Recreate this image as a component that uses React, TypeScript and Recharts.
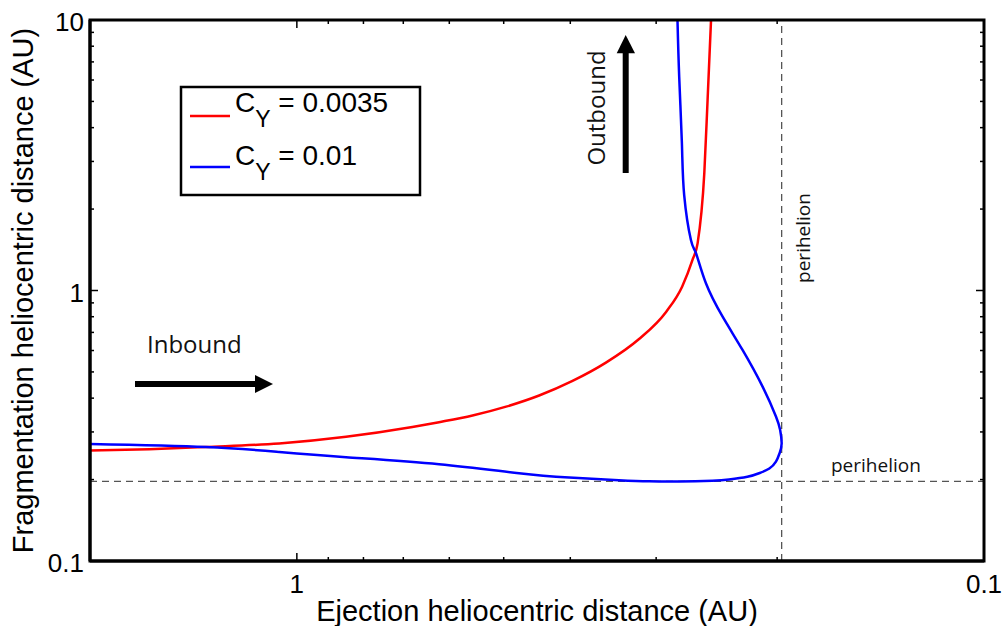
import React from 'react';
import { LineChart, Line, XAxis, YAxis, ReferenceLine } from 'recharts';

// ---- data ----
const redEjection = [2.0, 1.64, 1.357, 1.061, 0.848, 0.679, 0.621, 0.555, 0.496, 0.444, 0.397, 0.355, 0.318, 0.29, 0.275, 0.2656, 0.2611, 0.2553, 0.2525, 0.2496];
const redFragmentation = [0.256, 0.259, 0.264, 0.272, 0.288, 0.313, 0.326, 0.345, 0.372, 0.409, 0.463, 0.541, 0.66, 0.835, 1.033, 1.297, 1.494, 2.713, 5.06, 10];

const blueEjection = [2.0, 1.357, 1.061, 0.848, 0.621, 0.475, 0.4015, 0.34, 0.307, 0.278, 0.2485, 0.235, 0.221, 0.212, 0.2053, 0.2008, 0.1983, 0.197, 0.198, 0.2008, 0.21, 0.2246, 0.2401, 0.2539, 0.2625, 0.267, 0.2731, 0.2752, 0.2777, 0.2793];
const blueFragmentation = [0.271, 0.264, 0.253, 0.242, 0.228, 0.211, 0.2035, 0.199, 0.197, 0.1967, 0.1982, 0.2002, 0.2048, 0.2115, 0.2198, 0.233, 0.251, 0.272, 0.305, 0.342, 0.441, 0.603, 0.8, 1.063, 1.373, 1.537, 2.254, 3.5, 6.17, 10];

const seriesNames = ['0.0035', '0.01'];
const seriesColors = ['#ff0000', '#0000ff'];
const perihelion = 0.197;

const xTicks = [0.1, 0.2, 0.3, 0.4, 0.5, 0.6, 0.7, 0.8, 0.9, 1];
const xMajor = [0.1, 1];
const yTicks = [0.1, 0.2, 0.3, 0.4, 0.5, 0.6, 0.7, 0.8, 0.9, 1, 2, 3, 4, 5, 6, 7, 8, 9, 10];
const yMajor = [0.1, 1, 10];

const xLabel = 'Ejection heliocentric distance (AU)';
const yLabel = 'Fragmentation heliocentric distance (AU)';

const redData = redEjection.map((x, i) => ({ x, y: redFragmentation[i] }));
const blueData = blueEjection.map((x, i) => ({ x, y: blueFragmentation[i] }));

// ---- layout ----
const W = 1002;
const H = 626;
const PLOT = { left: 90, top: 20, right: 984, bottom: 561 };
const SANS = '"Liberation Sans", Arial, Helvetica, sans-serif';
const ANNO = '"Open Sans", "Noto Sans", sans-serif';

const XTick = (props: any) => {
  const { x, payload } = props;
  const v = payload.value;
  const major = xMajor.includes(v);
  const len = major ? 8 : 4;
  return (
    <g>
      <line x1={x} x2={x} y1={PLOT.bottom} y2={PLOT.bottom - len} stroke="#000" strokeWidth={1.5} />
      <line x1={x} x2={x} y1={PLOT.top} y2={PLOT.top + len} stroke="#000" strokeWidth={1.5} />
      {major && (
        <text x={x} y={PLOT.bottom + 32} textAnchor="middle" fontSize={26} fontFamily={SANS} fill="#000">
          {String(v)}
        </text>
      )}
    </g>
  );
};

const YTick = (props: any) => {
  const { y, payload } = props;
  const v = payload.value;
  const major = yMajor.includes(v);
  const len = major ? 8 : 4;
  return (
    <g>
      <line x1={PLOT.left} x2={PLOT.left + len} y1={y} y2={y} stroke="#000" strokeWidth={1.5} />
      <line x1={PLOT.right} x2={PLOT.right - len} y1={y} y2={y} stroke="#000" strokeWidth={1.5} />
      {major && (
        <text x={PLOT.left - 6} y={y + 11} textAnchor="end" fontSize={26} fontFamily={SANS} fill="#000">
          {String(v)}
        </text>
      )}
    </g>
  );
};

export default function App() {
  return (
    <div style={{ position: 'absolute', left: 0, top: 0, width: W, height: H, background: '#fff' }}>
      <LineChart width={W} height={H} margin={{ top: 20, right: 18, bottom: 0, left: 0 }}>
        <XAxis
          type="number"
          dataKey="x"
          scale="log"
          domain={[0.1, 2]}
          reversed
          allowDataOverflow
          ticks={xTicks}
          interval={0}
          tickSize={0}
          tickMargin={0}
          tickLine={false}
          tick={<XTick />}
          axisLine={{ stroke: '#000', strokeWidth: 3 }}
          height={65}
        />
        <YAxis
          type="number"
          dataKey="y"
          scale="log"
          domain={[0.1, 10]}
          allowDataOverflow
          ticks={yTicks}
          interval={0}
          tickSize={0}
          tickMargin={0}
          tickLine={false}
          tick={<YTick />}
          axisLine={{ stroke: '#000', strokeWidth: 3 }}
          width={90}
        />
        <ReferenceLine x={perihelion} stroke="#555" strokeDasharray="7 5" strokeWidth={1.3} />
        <ReferenceLine y={perihelion} stroke="#555" strokeDasharray="7 5" strokeWidth={1.3} />
        <Line data={redData} dataKey="y" type="monotoneX" stroke={seriesColors[0]} strokeWidth={2.5} dot={false} activeDot={false} isAnimationActive={false} />
        <Line data={blueData} dataKey="y" type="natural" stroke={seriesColors[1]} strokeWidth={2.5} dot={false} activeDot={false} isAnimationActive={false} />
      </LineChart>
      <svg width={W} height={H} style={{ position: 'absolute', left: 0, top: 0, pointerEvents: 'none' }}>
        <rect x={PLOT.left} y={PLOT.top} width={PLOT.right - PLOT.left} height={PLOT.bottom - PLOT.top} fill="none" stroke="#000" strokeWidth={3} />
        {/* axis titles */}
        <text x={(PLOT.left + PLOT.right) / 2} y={621} textAnchor="middle" fontSize={29} fontFamily={SANS} fill="#000">
          {xLabel}
        </text>
        <text transform={`translate(33, ${(PLOT.top + PLOT.bottom) / 2}) rotate(-90)`} textAnchor="middle" fontSize={29} fontFamily={SANS} fill="#000">
          {yLabel}
        </text>
        {/* legend */}
        <rect x={181} y={87} width={239} height={108} fill="#fff" stroke="#000" strokeWidth={2.5} />
        {[0, 1].map((i) => (
          <g key={i}>
            <line x1={190} x2={230} y1={i === 0 ? 116 : 167} y2={i === 0 ? 116 : 167} stroke={seriesColors[i]} strokeWidth={2.5} />
            <text x={235} y={i === 0 ? 112 : 165} fontSize={28} fontFamily={SANS} fill="#000">
              C
              <tspan fontSize={23} dy={15}>Y</tspan>
              <tspan dy={-15}>{` = ${seriesNames[i]}`}</tspan>
            </text>
          </g>
        ))}
        {/* inbound annotation */}
        <text x={147} y={353} fontSize={24} fontFamily={ANNO} fill="#111">Inbound</text>
        <rect x={135} y={381} width={122} height={6} fill="#000" />
        <polygon points="255,375 273,384 255,393" fill="#000" />
        {/* outbound annotation */}
        <text transform="translate(605, 108) rotate(-90)" textAnchor="middle" fontSize={24} fontFamily={ANNO} fill="#111">Outbound</text>
        <rect x={622.7} y={52} width={6} height={121} fill="#000" />
        <polygon points="616.7,53.3 625.7,35 635,53.3" fill="#000" />
        {/* perihelion labels */}
        <text transform="translate(810, 238) rotate(-90)" textAnchor="middle" fontSize={19} fontFamily={ANNO} fill="#111">perihelion</text>
        <text x={831} y={471.7} fontSize={19} fontFamily={ANNO} fill="#111">perihelion</text>
      </svg>
    </div>
  );
}
